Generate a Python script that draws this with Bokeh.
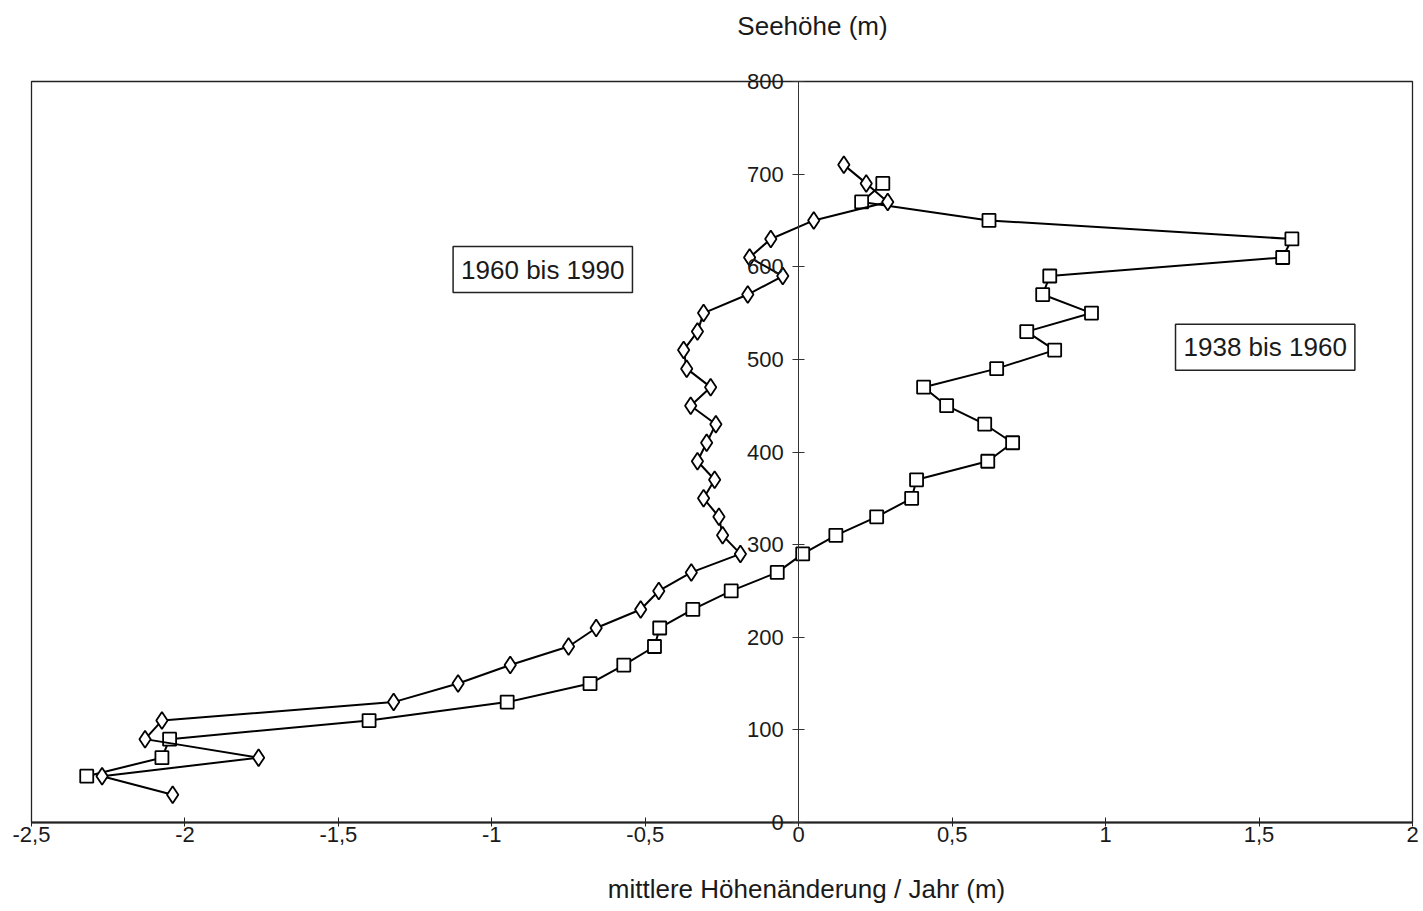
from bokeh.plotting import figure
from bokeh.models import Range1d, LinearAxis, FixedTicker, Label
from bokeh.embed import file_html
from bokeh.resources import INLINE

# 1960 bis 1990 (diamonds)
alt_1960 = [30, 50, 70, 90, 110, 130, 150, 170, 190, 210, 230, 250, 270, 290,
            310, 330, 350, 370, 390, 410, 430, 450, 470, 490, 510, 530, 550,
            570, 590, 610, 630, 650, 670, 690, 710]
val_1960 = [-2.04, -2.27, -1.76, -2.13, -2.075, -1.32, -1.11, -0.94, -0.75,
            -0.66, -0.515, -0.456, -0.35, -0.19, -0.248, -0.26, -0.31, -0.274,
            -0.33, -0.30, -0.27, -0.352, -0.287, -0.365, -0.375, -0.33, -0.31,
            -0.166, -0.052, -0.16, -0.091, 0.049, 0.29, 0.22, 0.147]

# 1938 bis 1960 (squares)
alt_1938 = [50, 70, 90, 110, 130, 150, 170, 190, 210, 230, 250, 270, 290, 310,
            330, 350, 370, 390, 410, 430, 450, 470, 490, 510, 530, 550, 570,
            590, 610, 630, 650, 670, 690]
val_1938 = [-2.32, -2.075, -2.05, -1.40, -0.95, -0.68, -0.57, -0.47, -0.453,
            -0.345, -0.22, -0.07, 0.013, 0.121, 0.254, 0.368, 0.384, 0.616,
            0.697, 0.606, 0.482, 0.407, 0.645, 0.834, 0.743, 0.954, 0.795,
            0.818, 1.577, 1.607, 0.62, 0.205, 0.274]

x_ticks = [-2.5, -2, -1.5, -1, -0.5, 0, 0.5, 1, 1.5, 2]
x_tick_labels = ["-2,5", "-2", "-1,5", "-1", "-0,5", "0", "0,5", "1", "1,5", "2"]
y_ticks = [0, 100, 200, 300, 400, 500, 600, 700, 800]
x_min, x_max = -2.5, 2
y_min, y_max = 0, 800

FONT = "Liberation Sans"
TXT = "#1a1a1a"
W, H = 1420, 908
FL, FR, FT, FB = 31, 1412, 81, 822   # plot-area box in canvas pixels

# frame covers the whole canvas; the plot area box is drawn explicitly
sx = (FR - FL) / (x_max - x_min)
sy = (FB - FT) / (y_max - y_min)
xr = Range1d(x_min - FL / sx, x_max + (W - FR) / sx)
yr = Range1d(y_min - (H - FB) / sy, y_max + FT / sy)

p = figure(width=W, height=H, output_backend="svg", toolbar_location=None,
           x_range=xr, y_range=yr, x_axis_location=None, y_axis_location=None,
           min_border=0, min_border_left=0, min_border_right=0,
           min_border_top=0, min_border_bottom=0)
p.xgrid.visible = False
p.ygrid.visible = False
p.outline_line_color = None
p.background_fill_color = "white"
p.border_fill_color = "white"

# plot-area border
p.quad(left=[x_min], right=[x_max], bottom=[y_min], top=[y_max],
       fill_color=None, line_color="#222222", line_width=1.3)

xaxis = LinearAxis(ticker=FixedTicker(ticks=x_ticks), fixed_location=0,
                   bounds=(x_min, x_max),
                   major_label_overrides={t: l for t, l in zip(x_ticks, x_tick_labels)})
xaxis.major_tick_in = 5
xaxis.major_tick_out = 4
xaxis.minor_tick_in = 0
xaxis.minor_tick_out = 0
xaxis.major_label_standoff = 0
xaxis.major_label_text_font = FONT
xaxis.major_label_text_font_size = "22px"
xaxis.major_label_text_color = TXT
xaxis.axis_line_color = "#222222"
xaxis.axis_line_width = 1.8
xaxis.major_tick_line_color = "#222222"
p.add_layout(xaxis, "below")

yaxis = LinearAxis(ticker=FixedTicker(ticks=y_ticks), fixed_location=0,
                   bounds=(y_min, y_max))
yaxis.major_tick_in = 6
yaxis.major_tick_out = 6
yaxis.minor_tick_in = 0
yaxis.minor_tick_out = 0
yaxis.major_label_standoff = 9
yaxis.major_label_text_font = FONT
yaxis.major_label_text_font_size = "22px"
yaxis.major_label_text_color = TXT
yaxis.axis_line_color = "#333333"
yaxis.axis_line_width = 1
yaxis.major_tick_line_color = "#333333"
p.add_layout(yaxis, "left")

p.line(val_1938, alt_1938, line_color="black", line_width=2)
p.scatter(val_1938, alt_1938, marker="square", size=13, fill_color="white",
          line_color="black", line_width=1.8)

p.line(val_1960, alt_1960, line_color="black", line_width=2)
p.scatter(val_1960, alt_1960, marker="diamond", size=17, fill_color="white",
          line_color="black", line_width=1.8)

# axis titles
p.add_layout(Label(x=(812 - FL) / sx + x_min, y=y_max + (FT - 25) / sy,
                   text="Seehöhe (m)",
                   text_align="center", text_baseline="middle", text_font=FONT,
                   text_font_size="26px", text_color=TXT))
p.add_layout(Label(x=(806 - FL) / sx + x_min, y=y_min - (888 - FB) / sy,
                   text="mittlere Höhenänderung / Jahr (m)",
                   text_align="center", text_baseline="middle", text_font=FONT,
                   text_font_size="26px", text_color=TXT))

for lx, ly, txt in [(-0.834, 597, "1960 bis 1990"), (1.52, 513, "1938 bis 1960")]:
    p.add_layout(Label(x=lx, y=ly, text=txt, text_align="center",
                       text_baseline="middle", text_font=FONT,
                       text_font_size="26px", text_color=TXT,
                       border_line_color="#222222", border_line_width=1.5,
                       background_fill_color="white", padding=8))

open("out.html", "w").write(file_html(p, INLINE))
